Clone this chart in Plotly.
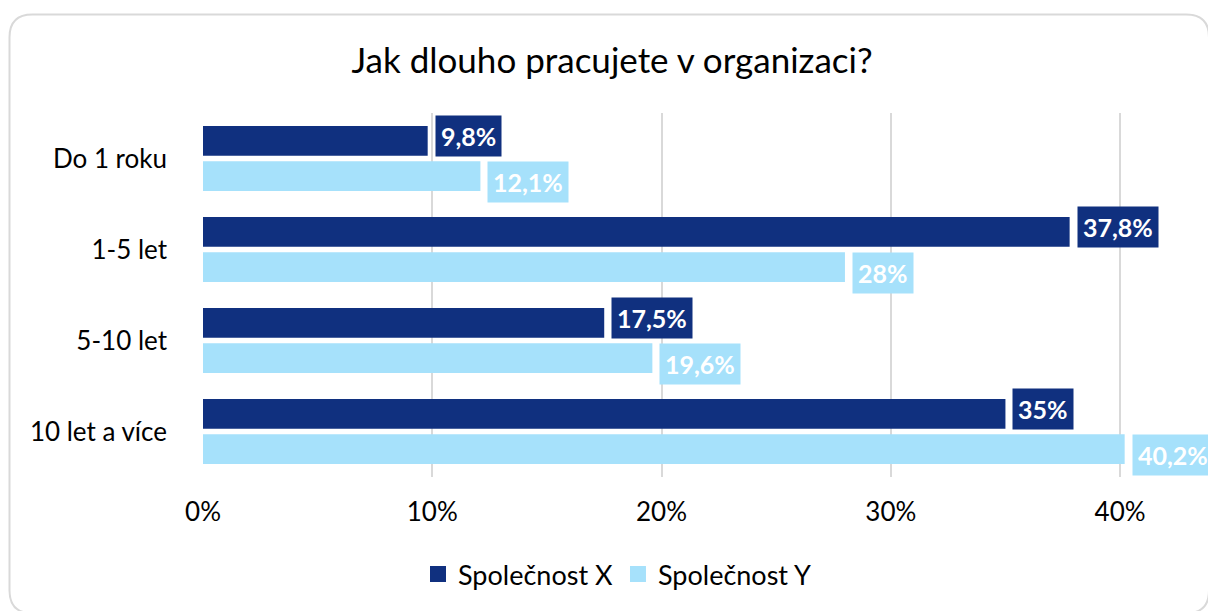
import plotly.graph_objects as go

categories = ["Do 1 roku", "1-5 let", "5-10 let", "10 let a více"]
series_names = ["Společnost X", "Společnost Y"]
values_x = [0.098, 0.378, 0.175, 0.35]
values_y = [0.121, 0.28, 0.196, 0.402]
labels_x = ["9,8%", "37,8%", "17,5%", "35%"]
labels_y = ["12,1%", "28%", "19,6%", "40,2%"]
tick_vals = [0, 0.1, 0.2, 0.3, 0.4]
tick_text = ["0%", "10%", "20%", "30%", "40%"]
title_text = "Jak dlouho pracujete v organizaci?"

DARK = "#10307F"
LIGHT = "#A6E1FB"
FONT = "Lato, Carlito, Calibri, sans-serif"

W, H = 1208, 611
ML, MR, MT, MB = 203, 65, 113, 132
PW = W - ML - MR
PH = H - MT - MB


def px_x(x):
    return (x - ML) / PW


def px_y(y):
    return (H - MB - y) / PH


fig = go.Figure()
for name, vals, col in [(series_names[0], values_x, DARK), (series_names[1], values_y, LIGHT)]:
    fig.add_trace(go.Bar(y=categories, x=vals, orientation="h", name=name,
                         marker=dict(color=col, line=dict(width=0)), showlegend=False,
                         hoverinfo="skip"))
    fig.add_trace(go.Scatter(x=[None], y=[None], mode="markers", name=name,
                             marker=dict(symbol="square", size=17, color=col),
                             showlegend=True))

annotations = []
for cat, v, t in zip(categories, values_x, labels_x):
    annotations.append(dict(x=v, y=cat, xref="x", yref="y", text="<b>" + t + "</b>",
                            showarrow=False, xanchor="left", yanchor="middle",
                            xshift=7, yshift=23, bgcolor=DARK, borderpad=5,
                            font=dict(family=FONT, size=25, color="white")))
for cat, v, t in zip(categories, values_y, labels_y):
    annotations.append(dict(x=v, y=cat, xref="x", yref="y", text="<b>" + t + "</b>",
                            showarrow=False, xanchor="left", yanchor="middle",
                            xshift=7, yshift=-23, bgcolor=LIGHT, borderpad=5,
                            font=dict(family=FONT, size=25, color="white")))

# rounded chart border
x0, x1 = px_x(9.5), px_x(1209)
y0, y1 = px_y(14), px_y(616)
rx = 23 / PW
ry = 23 / PH
path = (f"M {x0+rx},{y0} L {x1-rx},{y0} Q {x1},{y0} {x1},{y0-ry} "
        f"L {x1},{y1+ry} Q {x1},{y1} {x1-rx},{y1} L {x0+rx},{y1} "
        f"Q {x0},{y1} {x0},{y1+ry} L {x0},{y0-ry} Q {x0},{y0} {x0+rx},{y0} Z")

fig.update_layout(
    width=W, height=H, autosize=False,
    margin=dict(l=ML, r=MR, t=MT, b=MB, pad=0),
    paper_bgcolor="white", plot_bgcolor="white",
    barmode="group", bargap=0.224, bargroupgap=0.155,
    font=dict(family=FONT, size=26, color="#000000"),
    title=dict(text=title_text, x=px_x(612), xref="paper", xanchor="center",
               y=1 - 61 / H, yref="container", yanchor="middle",
               font=dict(family=FONT, size=35, color="#000000")),
    xaxis=dict(range=[0, 0.41], tickvals=tick_vals, ticktext=tick_text,
               showgrid=True, gridcolor="#D9D9D9", gridwidth=2, zeroline=False,
               showline=False, ticks="", ticklabelstandoff=17,
               tickfont=dict(family=FONT, size=26, color="#000000"), fixedrange=True),
    yaxis=dict(autorange="reversed", showgrid=False, zeroline=False, showline=False,
               ticks="", ticklabelstandoff=35,
               tickfont=dict(family=FONT, size=26, color="#000000"), fixedrange=True),
    legend=dict(orientation="h", x=px_x(418), xref="paper", xanchor="left",
                y=px_y(577), yanchor="middle", font=dict(family=FONT, size=27),
                itemclick=False, itemdoubleclick=False, tracegroupgap=0),
    annotations=annotations,
    shapes=[dict(type="path", path=path, xref="paper", yref="paper",
                 line=dict(color="#D9D9D9", width=2), fillcolor="rgba(0,0,0,0)",
                 layer="below")],
)

fig.write_html("out.html", config={"displayModeBar": False},
               post_script="document.body.style.margin='0';document.body.style.overflow='hidden';")
